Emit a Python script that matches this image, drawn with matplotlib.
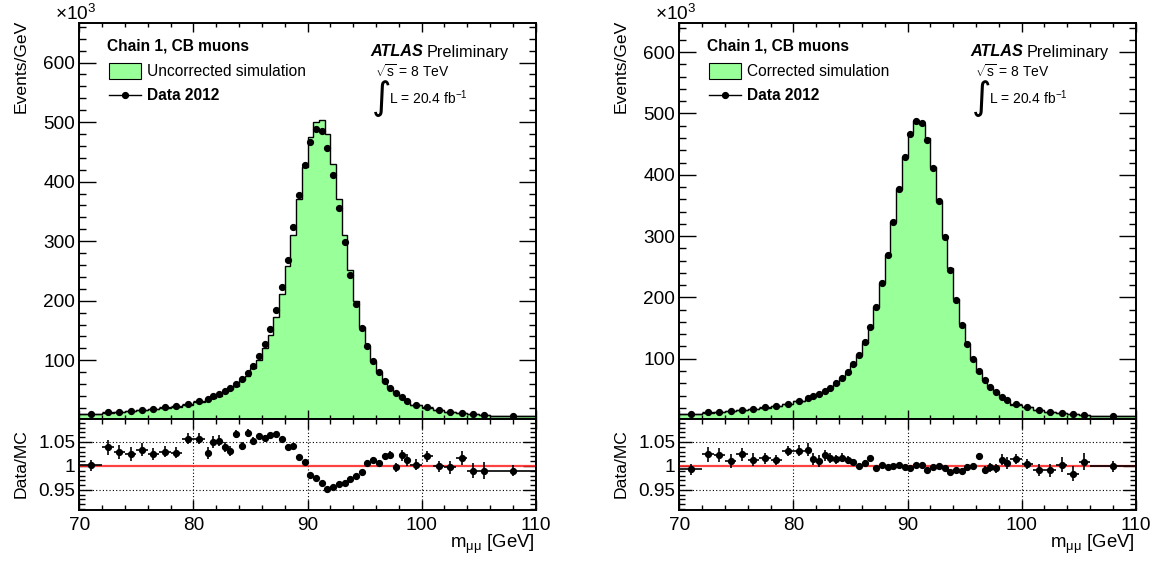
import numpy as np
import matplotlib
matplotlib.use("Agg")
import matplotlib.pyplot as plt
from matplotlib.patches import Rectangle
from matplotlib.lines import Line2D
from matplotlib.ticker import MultipleLocator, FixedLocator, FuncFormatter

plt.rcParams['font.family'] = ['Liberation Sans', 'DejaVu Sans']
plt.rcParams['mathtext.fontset'] = 'custom'
plt.rcParams['mathtext.rm'] = 'Liberation Sans'
plt.rcParams['mathtext.it'] = 'Liberation Sans:italic'
plt.rcParams['mathtext.bf'] = 'Liberation Sans:bold'

# Dimuon invariant mass binning [GeV]
bin_edges = [70, 72, 73, 74, 75, 76, 77, 78, 79, 80, 81,
             81.5, 82, 82.5, 83, 83.5, 84, 84.5, 85, 85.5, 86,
             86.5, 87, 87.5, 88, 88.5, 89, 89.5, 90, 90.5, 91,
             91.5, 92, 92.5, 93, 93.5, 94, 94.5, 95, 95.5, 96,
             96.5, 97, 97.5, 98, 98.5, 99,
             100, 101, 102, 103, 104, 105, 106, 110]

# Data 2012, events/GeV in units of 10^3
data_2012 = [10.3, 12.5, 13.6, 15.2, 16.3, 18.5, 20.7, 22.8, 26.6, 31.5,
             35.3, 39.1, 42.9, 47.8, 52.7, 59.8, 69.0, 78.3, 90.8, 106.5,
             127.0, 152.2, 184.2, 223.4, 269.0, 323.4, 377.2, 428.3, 466.3, 488.0,
             484.8, 456.5, 410.9, 356.5, 298.9, 244.0, 195.1, 154.3, 124.0, 99.5,
             79.9, 64.7, 53.8, 45.1, 37.5, 32.1,
             25.5, 20.7, 16.3, 13.6, 11.4, 9.8, 8.7, 7.1]

# Data/MC with the uncorrected simulation
ratio_uncorrected = [1.001, 1.039, 1.029, 1.025, 1.034, 1.025, 1.030, 1.028, 1.057, 1.057,
                     1.027, 1.050, 1.053, 1.040, 1.031, 1.067, 1.042, 1.069, 1.053, 1.062,
                     1.059, 1.064, 1.066, 1.057, 1.039, 1.041, 1.018, 1.008, 0.982, 0.975,
                     0.964, 0.952, 0.955, 0.962, 0.965, 0.973, 0.978, 0.987, 1.007, 1.013,
                     1.006, 1.020, 1.023, 0.997, 1.022, 1.012,
                     1.003, 1.020, 0.999, 0.997, 1.017, 0.990, 0.990, 0.990]

# Data/MC with the corrected simulation
ratio_corrected = [0.993, 1.024, 1.023, 1.010, 1.024, 1.013, 1.016, 1.012, 1.031, 1.032,
                   1.034, 1.015, 1.010, 1.022, 1.017, 1.014, 1.017, 1.012, 1.008, 0.999,
                   1.007, 1.016, 0.996, 1.003, 0.998, 0.999, 1.002, 0.998, 0.996, 1.001,
                   1.003, 0.991, 0.997, 0.999, 0.996, 0.987, 0.992, 0.990, 0.998, 0.999,
                   1.020, 0.991, 0.997, 0.995, 1.013, 1.006,
                   1.014, 1.004, 0.992, 0.991, 1.003, 0.984, 1.009, 0.999]

# Uncertainty on the ratio
ratio_err = [0.012, 0.016, 0.015, 0.015, 0.014, 0.013, 0.012, 0.011, 0.011, 0.011,
             0.013, 0.012, 0.012, 0.011, 0.010, 0.009, 0.009, 0.008, 0.007, 0.006,
             0.006, 0.005, 0.005, 0.004, 0.004, 0.003, 0.003, 0.003, 0.003, 0.003,
             0.003, 0.003, 0.003, 0.003, 0.003, 0.004, 0.004, 0.005, 0.006, 0.006,
             0.007, 0.008, 0.009, 0.010, 0.011, 0.012,
             0.011, 0.011, 0.012, 0.014, 0.015, 0.016, 0.018, 0.011]

panels = [
    dict(ratio=ratio_uncorrected, label="Uncorrected simulation", ymax=667.0, ymin=1.3, dx=0),
    dict(ratio=ratio_corrected, label="Corrected simulation", ymax=648.0, ymin=1.7, dx=600),
]

W, H = 1163, 563
fig = plt.figure(figsize=(W / 100, H / 100), dpi=100)

edges = np.array(bin_edges)
centers = 0.5 * (edges[1:] + edges[:-1])
halfw = 0.5 * (edges[1:] - edges[:-1])
data = np.array(data_2012)
rerr = np.array(ratio_err)

GREEN = '#99ff99'
FS_TICK = 13.7
FS_TITLE = 12.6
FS_LEG = 11.2


def fx(x):
    return x / W


def fy(y):
    return 1 - y / H


def ftext(x, y, s, **kw):
    fig.text(fx(x), fy(y), s, **kw)


def style_axis(ax, xmaj, xmin, ymaj, ymin):
    ax.tick_params(which='both', direction='in', top=True, right=True,
                   labelsize=FS_TICK, width=1.0)
    ax.tick_params(axis='x', which='major', length=xmaj)
    ax.tick_params(axis='x', which='minor', length=xmin)
    ax.tick_params(axis='y', which='major', length=ymaj, pad=3)
    ax.tick_params(axis='y', which='minor', length=ymin)
    for sp in ax.spines.values():
        sp.set_linewidth(1.4)


for p in panels:
    dx = p['dx']
    ratio = np.array(p['ratio'])
    mc = data / ratio

    x0 = 79.3 + dx
    wid = 456.4
    ax = fig.add_axes([fx(x0), fy(419), wid / W, (419 - 22.7) / H])
    axr = fig.add_axes([fx(x0), fy(510), wid / W, (510 - 419) / H])

    # main panel: simulation histogram and data points
    ax.stairs(mc, edges, fill=True, color=GREEN, baseline=0, lw=0)
    ax.stairs(mc, edges, color='black', lw=1.0, baseline=None)
    ax.errorbar(centers, data, xerr=halfw, fmt='o', color='black', ms=4.2,
                elinewidth=1.0, capsize=0)
    ax.set_xlim(70, 110)
    ax.set_ylim(p['ymin'], p['ymax'])
    ax.xaxis.set_major_locator(MultipleLocator(10))
    ax.xaxis.set_minor_locator(MultipleLocator(2))
    ax.yaxis.set_major_locator(MultipleLocator(100))
    ax.yaxis.set_minor_locator(MultipleLocator(20))
    ax.tick_params(labelbottom=False)
    style_axis(ax, 6.5, 3.2, 12.2, 5.0)

    # ratio panel
    for xv in (80, 90, 100):
        axr.axvline(xv, color='black', lw=0.8, ls=(0, (1, 2)), zorder=1)
    for yv in (0.95, 1.05):
        axr.axhline(yv, color='black', lw=0.8, ls=(0, (1, 2)), zorder=1)
    axr.axhline(1.0, color='#ff2020', lw=1.6, alpha=0.85, zorder=2)
    axr.errorbar(centers, ratio, xerr=halfw, yerr=rerr, fmt='o', color='black',
                 ms=4.2, elinewidth=1.2, capsize=0, zorder=3)
    axr.set_xlim(70, 110)
    axr.set_ylim(0.908, 1.098)
    axr.xaxis.set_major_locator(MultipleLocator(10))
    axr.xaxis.set_minor_locator(MultipleLocator(2))
    axr.yaxis.set_major_locator(FixedLocator([0.95, 1.0, 1.05]))
    axr.yaxis.set_minor_locator(MultipleLocator(0.01))
    axr.yaxis.set_major_formatter(FuncFormatter(lambda v, pos: f"{v:g}"))
    style_axis(axr, 7.2, 3.6, 9.4, 4.3)
    axr.tick_params(axis='x', pad=5)

    # axis titles
    ftext(55 + dx, 20, r"$\times$10$^{3}$", fontsize=FS_TICK, ha='left', va='baseline')
    ftext(21 + dx, 20, "Events/GeV", fontsize=FS_TITLE, rotation=90, ha='center', va='top')
    ftext(21 + dx, 464, "Data/MC", fontsize=FS_TITLE, rotation=90, ha='center', va='center')
    ftext(535 + dx, 548, r"m$_{\mathrm{μμ}}$ [GeV]", fontsize=FS_TITLE + 0.8,
          ha='right', va='baseline')

    # legend
    ftext(107 + dx, 46, "Chain 1, CB muons", fontsize=FS_LEG, fontweight='bold',
          ha='left', va='center')
    fig.add_artist(Rectangle((fx(109 + dx), fy(79)), 32 / W, 16 / H,
                             facecolor=GREEN, edgecolor='black', lw=0.8,
                             transform=fig.transFigure))
    ftext(147 + dx, 71, p['label'], fontsize=FS_LEG, ha='left', va='center')
    fig.add_artist(Line2D([fx(109 + dx), fx(141 + dx)], [fy(95), fy(95)],
                          color='black', lw=1.0, transform=fig.transFigure))
    fig.add_artist(Line2D([fx(125 + dx)], [fy(95)], marker='o', ms=4.2,
                          color='black', transform=fig.transFigure))
    ftext(147 + dx, 96, "Data 2012", fontsize=FS_LEG, fontweight='bold',
          ha='left', va='center')

    # experiment label
    ftext(370 + dx, 52, "ATLAS", fontsize=FS_LEG + 0.5, fontweight='bold',
          fontstyle='italic', ha='left', va='center')
    ftext(427 + dx, 52, "Preliminary", fontsize=FS_LEG + 0.5, ha='left', va='center')
    ftext(375 + dx, 72, r"$\sqrt{\mathrm{s}}$ = 8 TeV", fontsize=10, ha='left', va='center')
    ftext(372 + dx, 99, "∫", fontsize=27, family='DejaVu Sans', ha='left', va='center')
    ftext(389 + dx, 98, r"L = 20.4 fb$^{\mathrm{-1}}$", fontsize=10, ha='left', va='center')

fig.savefig("out.png", dpi=100)
